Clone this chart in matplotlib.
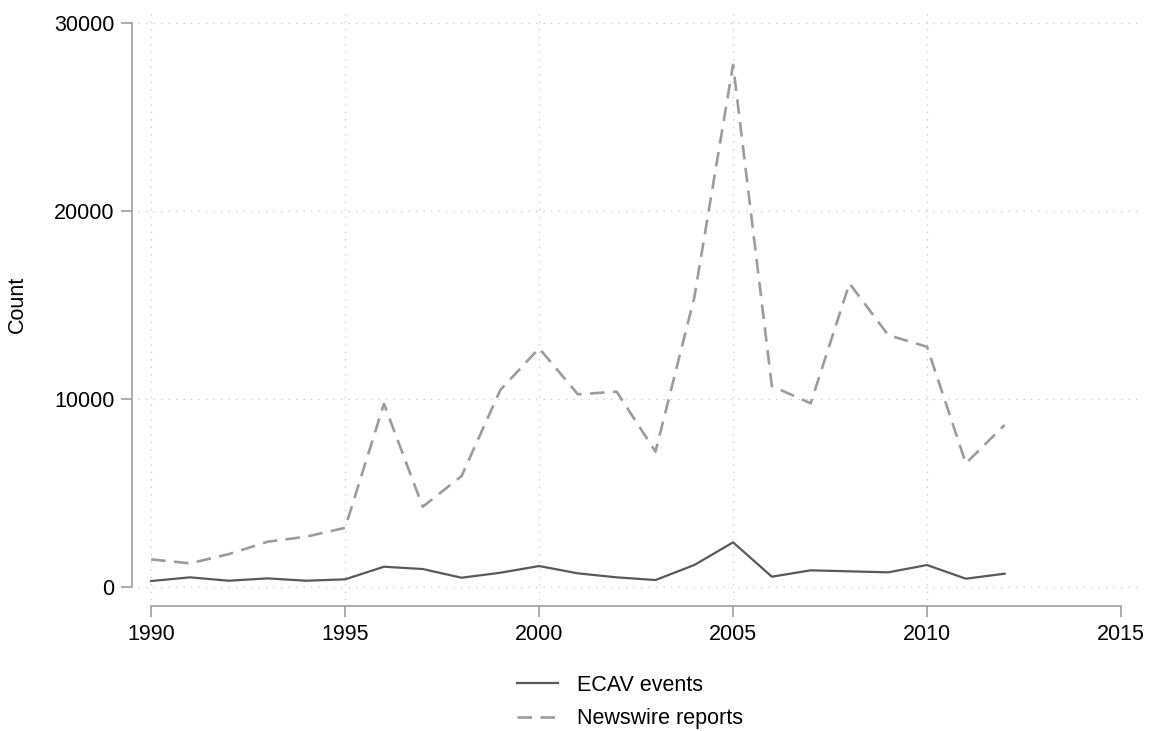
import matplotlib
matplotlib.use("Agg")
import matplotlib.pyplot as plt

plt.rcParams['font.family'] = ['Liberation Sans', 'DejaVu Sans']

years = list(range(1990, 2013))
ecav_events = [320, 515, 335, 460, 335, 410, 1080, 957, 495, 760, 1117, 727,
               515, 372, 1170, 2377, 550, 888, 835, 782, 1170, 443, 709]
newswire_reports = [1470, 1260, 1750, 2410, 2680, 3150, 9750, 4270, 5900, 10480,
                    12700, 10250, 10390, 7200, 15400, 27780, 10690, 9770, 16150,
                    13400, 12780, 6580, 8620]

x_ticks = [1990, 1995, 2000, 2005, 2010, 2015]
y_ticks = [0, 10000, 20000, 30000]
grid_x = [1990, 1995, 2000, 2005, 2010]

spine_col = '#a6a6a6'
grid_col = '#c4c4c4'

fig = plt.figure(figsize=(11.55, 7.31), dpi=100)
ax = fig.add_axes([138 / 1155, 1 - 600 / 731, 1002 / 1155, 592 / 731])

# dotted grid like Stata
for yv in y_ticks:
    ax.axhline(yv, color=grid_col, lw=0.9, ls=(0, (1, 5)), zorder=0)
for xv in grid_x:
    ax.axvline(xv, color=grid_col, lw=0.9, ls=(0, (1, 5)), zorder=0)

ax.plot(years, ecav_events, color='#595959', lw=1.6, label='ECAV events', zorder=3)
ax.plot(years, newswire_reports, color='#9c9c9c', lw=1.9, dashes=(5.5, 3.2),
        label='Newswire reports', zorder=2)

ax.set_xlim(1989.66, 2015.49)
ax.set_ylim(-690, 30800)
ax.set_xticks(x_ticks)
ax.set_yticks(y_ticks)
ax.set_yticklabels([str(v) for v in y_ticks])

for s in ['top', 'right']:
    ax.spines[s].set_visible(False)
ax.spines['left'].set_position(('outward', 4))
ax.spines['bottom'].set_position(('outward', 4))
ax.spines['left'].set_bounds(0, 30000)
ax.spines['bottom'].set_bounds(1990, 2015)
for s in ['left', 'bottom']:
    ax.spines[s].set_color(spine_col)
    ax.spines[s].set_linewidth(1.3)

ax.tick_params(axis='both', colors=spine_col, width=1.3, length=8,
               labelcolor='black', labelsize=15.5, pad=5)

ax.set_ylabel('Count', fontsize=15.5)
ax.yaxis.set_label_coords(-0.11, 0.5)

fig.legend(loc='center', bbox_to_anchor=(630 / 1155, 1 - 702 / 731),
           frameon=False, fontsize=15.5, handlelength=1.9, handletextpad=0.85,
           labelspacing=0.6)

fig.savefig('out.png', dpi=100, facecolor='white')
